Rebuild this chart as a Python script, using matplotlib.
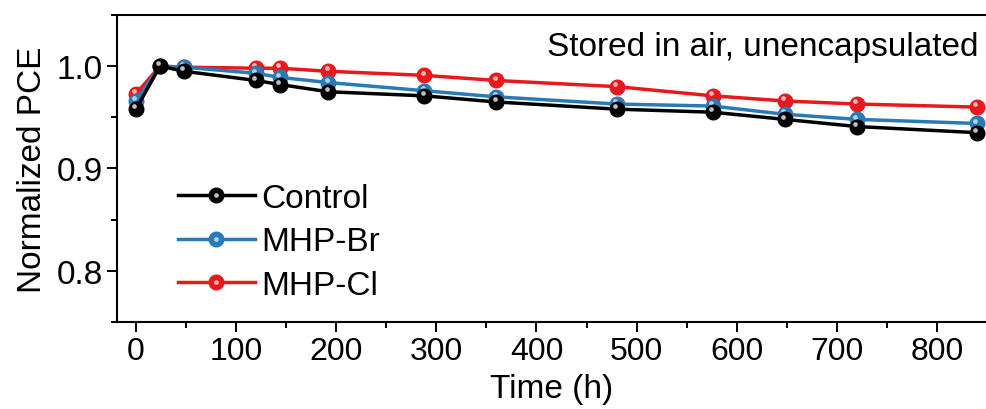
import matplotlib
matplotlib.use("Agg")
import matplotlib.pyplot as plt
from matplotlib.ticker import MultipleLocator
from matplotlib.transforms import offset_copy
from matplotlib.legend_handler import HandlerTuple

plt.rcParams['font.family'] = ['Liberation Sans', 'DejaVu Sans']

# Time points (h)
time_h = [0, 24, 48, 120, 144, 192, 288, 360, 480, 576, 648, 720, 840]

# Normalized PCE
control = [0.958, 1.000, 0.995, 0.986, 0.982, 0.975, 0.971, 0.965, 0.958, 0.955, 0.948, 0.941, 0.935]
mhp_br = [0.966, 1.000, 0.999, 0.993, 0.989, 0.984, 0.976, 0.970, 0.963, 0.961, 0.953, 0.948, 0.944]
mhp_cl = [0.973, 1.000, 0.999, 0.998, 0.998, 0.995, 0.991, 0.986, 0.980, 0.971, 0.966, 0.963, 0.960]

series_names = ["Control", "MHP-Br", "MHP-Cl"]
series_colors = ["#000000", "#2a7ab5", "#e8191c"]
shine_colors = ["#c8c8c8", "#b5daf2", "#f7c0c0"]

fig = plt.figure(figsize=(9.87, 4.10), dpi=100)
ax = fig.add_axes([0.1185, 0.2122, 0.8805, 0.7488])

# small highlight so the markers look like little balls
shine_tr = offset_copy(ax.transData, fig=fig, x=-1.2, y=2.0, units='points')

handles = []
for name, vals, col, sh in zip(series_names, [control, mhp_br, mhp_cl], series_colors, shine_colors):
    ln, = ax.plot(time_h, vals, color=col, lw=2.5, marker='o', ms=10.5,
                  mfc=col, mec=col, label=name)
    hl, = ax.plot(time_h, vals, ls='none', marker='o', ms=3.4, mfc=sh, mec='none',
                  alpha=0.95, transform=shine_tr)
    handles.append((ln, hl))

# black drawn on top, red at the bottom
for (ln, hl), z in zip(handles, [6, 5, 4]):
    ln.set_zorder(z)
    hl.set_zorder(z + 0.5)

ax.set_xlim(-19, 849)
ax.set_ylim(0.75, 1.05)
ax.xaxis.set_major_locator(MultipleLocator(100))
ax.xaxis.set_minor_locator(MultipleLocator(50))
ax.yaxis.set_major_locator(MultipleLocator(0.1))
ax.yaxis.set_minor_locator(MultipleLocator(0.05))
ax.yaxis.set_major_formatter(plt.FormatStrFormatter('%.1f'))

ax.tick_params(which='major', direction='out', length=7, width=1.4, labelsize=24, pad=3)
ax.tick_params(which='minor', direction='out', length=4, width=1.4)
ax.tick_params(axis='x', labelsize=23)
for sp in ax.spines.values():
    sp.set_linewidth(1.5)
ax.spines['right'].set_color('#888888')
ax.spines['right'].set_linewidth(0.8)

ax.set_xlabel("Time (h)", fontsize=24, labelpad=5)
ax.set_ylabel("Normalized PCE", fontsize=24, labelpad=6)

ax.text(0.991, 0.896, "Stored in air, unencapsulated", transform=ax.transAxes,
        ha='right', va='center', fontsize=24)

ax.legend(handles, series_names, handler_map={tuple: HandlerTuple(ndivide=1)},
          loc='lower left', bbox_to_anchor=(0.055, 0.025), frameon=False, fontsize=24,
          handlelength=2.3, handletextpad=0.2, labelspacing=0.38, borderaxespad=0)

fig.savefig("out.png", dpi=100)
